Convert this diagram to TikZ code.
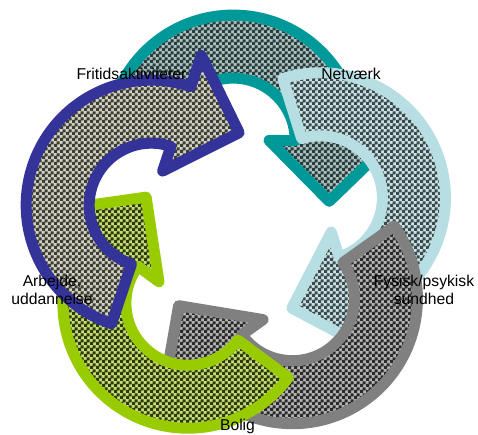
\documentclass[tikz,border=0pt]{standalone}
\usepackage{fontspec}
\setmainfont{Liberation Sans}
\usetikzlibrary{patterns}
\pgfdeclarepatternformonly{chk}{\pgfpointorigin}{\pgfqpoint{6pt}{6pt}}{\pgfqpoint{6pt}{6pt}}{%
  \pgfpathrectangle{\pgfpointorigin}{\pgfqpoint{3.5pt}{3.5pt}}%
  \pgfpathrectangle{\pgfqpoint{3pt}{3pt}}{\pgfqpoint{3.5pt}{3.5pt}}%
  \pgfusepath{fill}}
\definecolor{tealO}{HTML}{009999}
\definecolor{tealL}{HTML}{AAC4C4}
\definecolor{tealD}{HTML}{2C3A3A}
\definecolor{lbO}{HTML}{B7DEE2}
\definecolor{lbL}{HTML}{CCE4E6}
\definecolor{lbD}{HTML}{3A4A4C}
\definecolor{grayO}{HTML}{808080}
\definecolor{grayL}{HTML}{B4B4B4}
\definecolor{grayD}{HTML}{2A2A2A}
\definecolor{greenO}{HTML}{99CC00}
\definecolor{greenL}{HTML}{C4DE78}
\definecolor{greenD}{HTML}{2E3808}
\definecolor{blueO}{HTML}{333399}
\definecolor{blueL}{HTML}{D2D2C0}
\definecolor{blueD}{HTML}{3C3C38}
\tikzset{
  arrowline/.style={line width=11pt, line join=round},
  lbl/.style={font=\fontsize{15.7}{18}\selectfont, text=black, inner sep=0pt, align=center, anchor=base}
}
\newcommand\cyclearrow[6]{%
  \begin{scope}[shift={(#1,#2)},rotate=#3]
    \draw[arrowline, draw=#4, preaction={fill=#5}, pattern=chk, pattern color=#6]
      (87:62) arc[start angle=87,end angle=-93,radius=62]
      -- (-93:36) -- (-125:114) -- (-93:158) -- (-93:125)
      arc[start angle=-93,end angle=87,radius=125] -- cycle;
  \end{scope}}
\begin{document}
\begin{tikzpicture}[x=1pt,y=1pt]
  \useasboundingbox (0,0) rectangle (478,435);
  \cyclearrow{233.1}{294.9}{92.5}{tealO}{tealL}{tealD}
  \cyclearrow{320.4}{237.2}{20.5}{lbO}{lbL}{lbD}
  \cyclearrow{292.4}{136.3}{-51.5}{grayO}{grayL}{grayD}
  \cyclearrow{187.9}{131.8}{-123.5}{greenO}{greenL}{greenD}
  \cyclearrow{151.2}{229.8}{164.5}{blueO}{blueL}{blueD}
  \node[lbl] (fri) at (131.5,355) {Fritidsaktiviteter};
  \node[lbl] (net) at (351,355) {Netværk};
  \node[lbl] (fys) at (424,130) {Fysisk/psykisk\\sundhed};
  \node[lbl] (arb) at (52,130) {Arbejde,\\uddannelse};
  \node[lbl] (bol) at (237.5,4) {Bolig};
\end{tikzpicture}
\end{document}
